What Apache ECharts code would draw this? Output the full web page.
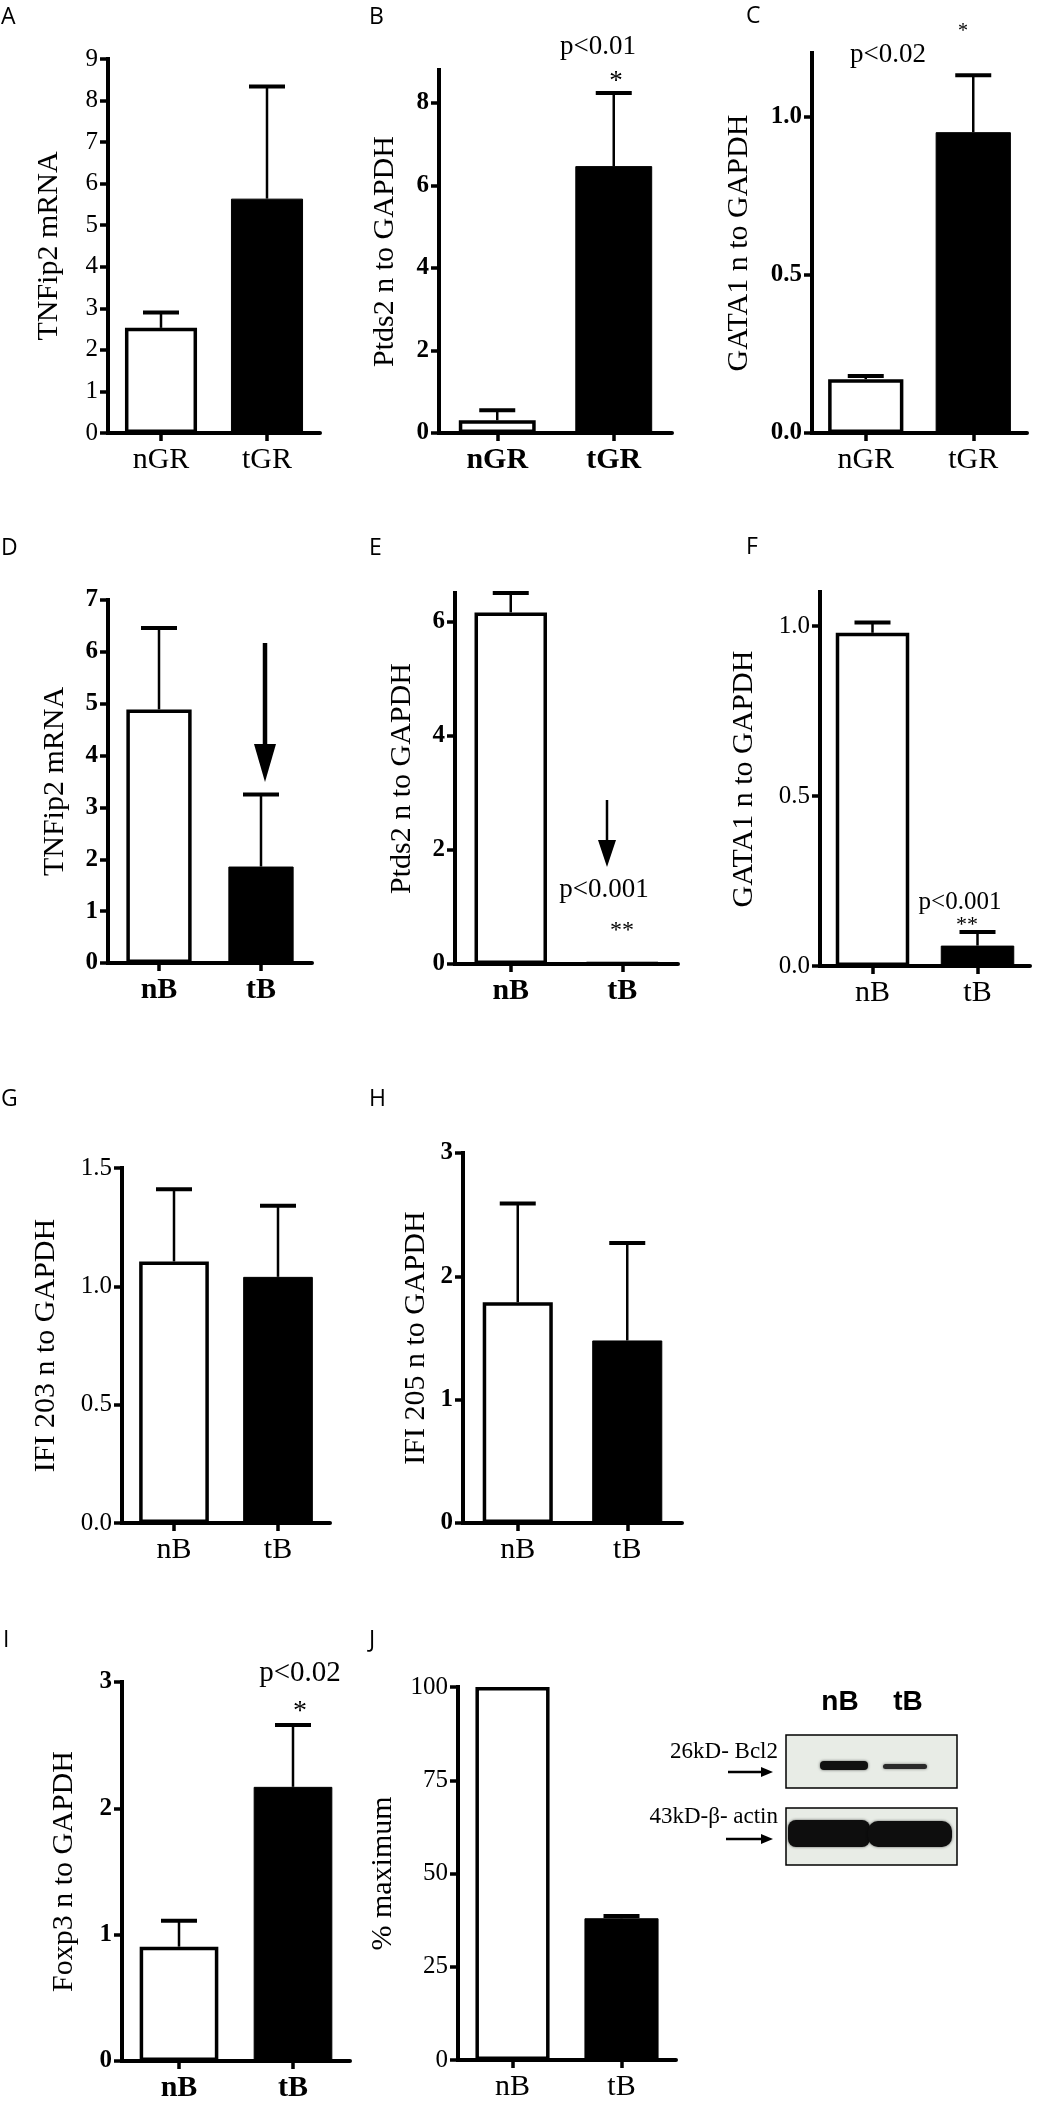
<!DOCTYPE html>
<html>
<head>
<meta charset="utf-8">
<title>qPCR panels A-J</title>
<script src="https://cdn.jsdelivr.net/npm/echarts@6/dist/echarts.min.js"></script>
<style>
  html, body { margin: 0; padding: 0; background: #fff; }
  #fig { width: 1064px; height: 2110px; }
</style>
</head>
<body>
<div id="fig"></div>
<script>
// groups
const catsGR = ['nGR', 'tGR'];
const catsB = ['nB', 'tB'];

// bar heights (mean) and upper error (SEM)
const tnfip2GR = [2.53, 5.64];
const tnfip2GRSem = [0.37, 2.70];
const ptds2GR = [0.31, 6.47];
const ptds2GRSem = [0.24, 1.77];
const gata1GR = [0.17, 0.95];
const gata1GRSem = [0.01, 0.18];
const tnfip2B = [4.89, 1.86];
const tnfip2BSem = [1.57, 1.39];
const ptds2B = [6.16, 0.04];
const ptds2BSem = [0.34, 0];
const gata1B = [0.98, 0.06];
const gata1BSem = [0.03, 0.04];
const ifi203B = [1.105, 1.04];
const ifi203BSem = [0.305, 0.30];
const ifi205B = [1.79, 1.48];
const ifi205BSem = [0.80, 0.79];
const foxp3B = [0.905, 2.17];
const foxp3BSem = [0.205, 0.49];
const bcl2Pct = [100, 38];
const bcl2PctSem = [0, 0.6];

// y tick labels
const ticksA = [0, 1, 2, 3, 4, 5, 6, 7, 8, 9];
const ticksB = [0, 2, 4, 6, 8];
const ticksC = [0, 0.5, 1.0];
const ticksD = [0, 1, 2, 3, 4, 5, 6, 7];
const ticksE = [0, 2, 4, 6];
const ticksF = [0, 0.5, 1.0];
const ticksG = [0, 0.5, 1.0, 1.5];
const ticksH = [0, 1, 2, 3];
const ticksI = [0, 1, 2, 3];
const ticksJ = [0, 25, 50, 75, 100];

const serif = "'Liberation Serif', 'Times New Roman', serif";
const sans = "'Open Sans', 'Noto Sans', sans-serif";

// box = [left, top, width, height] of each plot area
const panels = [
  {cats: catsGR, mean: tnfip2GR, sem: tnfip2GRSem, ticks: ticksA, max: 9,   name: 'TNFip2 mRNA',       box: [108, 59, 212, 374],  tickBold: false, catBold: false, gap: 44, digits: 0, barW: '68%'},
  {cats: catsGR, mean: ptds2GR,  sem: ptds2GRSem,  ticks: ticksB, max: 8.8, name: 'Ptds2 n to GAPDH',  box: [439, 70, 233, 363],  tickBold: true,  catBold: true,  gap: 39, digits: 0, barW: '66%'},
  {cats: catsGR, mean: gata1GR,  sem: gata1GRSem,  ticks: ticksC, max: 1.2, name: 'GATA1 n to GAPDH',  box: [812, 53, 215, 380],  tickBold: true,  catBold: false, gap: 58, digits: 1, barW: '70%'},
  {cats: catsB,  mean: tnfip2B,  sem: tnfip2BSem,  ticks: ticksD, max: 7,   name: 'TNFip2 mRNA',       box: [108, 600, 204, 363], tickBold: true,  catBold: true,  gap: 38, digits: 0, barW: '64%'},
  {cats: catsB,  mean: ptds2B,   sem: ptds2BSem,   ticks: ticksE, max: 6.5, name: 'Ptds2 n to GAPDH',  box: [455, 593, 223, 371], tickBold: true,  catBold: true,  gap: 38, digits: 0, barW: '65%'},
  {cats: catsB,  mean: gata1B,   sem: gata1BSem,   ticks: ticksF, max: 1.1, name: 'GATA1 n to GAPDH',  box: [820, 592, 210, 374], tickBold: false, catBold: false, gap: 61, digits: 1, barW: '70%'},
  {cats: catsB,  mean: ifi203B,  sem: ifi203BSem,  ticks: ticksG, max: 1.5, name: 'IFI 203 n to GAPDH', box: [122, 1168, 208, 355], tickBold: false, catBold: false, gap: 61, digits: 1, barW: '67%'},
  {cats: catsB,  mean: ifi205B,  sem: ifi205BSem,  ticks: ticksH, max: 3,   name: 'IFI 205 n to GAPDH', box: [463, 1153, 219, 370], tickBold: true,  catBold: false, gap: 32, digits: 0, barW: '64%'},
  {cats: catsB,  mean: foxp3B,   sem: foxp3BSem,   ticks: ticksI, max: 3,   name: 'Foxp3 n to GAPDH',  box: [122, 1682, 228, 379], tickBold: true,  catBold: true,  gap: 43, digits: 0, barW: '69%'},
  {cats: catsB,  mean: bcl2Pct,  sem: bcl2PctSem,  ticks: ticksJ, max: 100, name: '% maximum',         box: [458, 1687, 218, 373], tickBold: false, catBold: false, gap: 60, digits: 0, barW: '68%'}
];

const grid = [], xAxis = [], yAxis = [], series = [];

panels.forEach((p, i) => {
  grid.push({left: p.box[0], top: p.box[1], width: p.box[2], height: p.box[3], outerBoundsMode: 'none'});
  xAxis.push({
    type: 'category', gridIndex: i, data: p.cats,
    axisLine: {show: true, lineStyle: {color: '#000', width: 4}},
    axisTick: {show: true, alignWithLabel: true, length: 8, lineStyle: {color: '#000', width: 3.5}},
    axisLabel: {color: '#000', fontFamily: serif, fontSize: 30, fontWeight: p.catBold ? 'bold' : 'normal', margin: 12}
  });
  yAxis.push({
    type: 'value', gridIndex: i, min: 0, max: p.max,
    name: p.name, nameLocation: 'middle', nameGap: p.gap,
    nameTextStyle: {color: '#000', fontFamily: serif, fontSize: 30},
    splitLine: {show: false},
    axisLine: {show: true, lineStyle: {color: '#000', width: 4, cap: 'square'}},
    axisTick: {show: true, customValues: p.ticks, length: 8, lineStyle: {color: '#000', width: 3.5}},
    axisLabel: {
      customValues: p.ticks, color: '#000', fontFamily: serif, fontSize: 25,
      fontWeight: p.tickBold ? 'bold' : 'normal', margin: 10,
      formatter: v => v.toFixed(p.digits)
    }
  });
  series.push({
    type: 'bar', xAxisIndex: i, yAxisIndex: i, barWidth: p.barW,
    data: p.mean.map((v, k) => ({
      value: v,
      itemStyle: k === 0
        ? {color: '#fff', borderColor: '#000', borderWidth: 3.5}
        : {color: '#000', borderColor: '#000', borderWidth: 1}
    })),
    silent: true
  });
  series.push({
    type: 'custom', xAxisIndex: i, yAxisIndex: i, z: 5, silent: true,
    data: p.mean.map((v, k) => [k, v, v + p.sem[k]]),
    encode: {x: 0, y: [1, 2]},
    renderItem: (params, api) => {
      if (api.value(2) <= api.value(1)) return null;
      const base = api.coord([api.value(0), api.value(1)]);
      const top = api.coord([api.value(0), api.value(2)]);
      return {
        type: 'group',
        children: [
          {type: 'line', shape: {x1: base[0], y1: base[1], x2: top[0], y2: top[1]}, style: {stroke: '#000', lineWidth: 2.5}},
          {type: 'line', shape: {x1: top[0] - 18, y1: top[1], x2: top[0] + 18, y2: top[1]}, style: {stroke: '#000', lineWidth: 4}}
        ]
      };
    }
  });
});

function txt(x, y, text, size, opts) {
  opts = opts || {};
  return {
    type: 'text', x: x, y: y, z: 10, silent: true,
    style: {
      text: text, fill: '#000', fontSize: size,
      fontFamily: opts.family || serif, fontWeight: opts.weight || 'normal',
      align: opts.align || 'center', verticalAlign: 'middle'
    }
  };
}

function arrowDown(x, y1, y2, shaftW, headW, headH) {
  return [
    {type: 'line', z: 10, shape: {x1: x, y1: y1, x2: x, y2: y2 - headH + 2}, style: {stroke: '#000', lineWidth: shaftW}},
    {type: 'polygon', z: 10, shape: {points: [[x - headW / 2, y2 - headH], [x + headW / 2, y2 - headH], [x, y2]]}, style: {fill: '#000'}}
  ];
}

function arrowRight(x1, x2, y) {
  return [
    {type: 'line', z: 10, shape: {x1: x1, y1: y, x2: x2 - 10, y2: y}, style: {stroke: '#000', lineWidth: 2.5}},
    {type: 'polygon', z: 10, shape: {points: [[x2 - 12, y - 5], [x2 - 12, y + 5], [x2, y]]}, style: {fill: '#000'}}
  ];
}

const letters = [['A', 1, 17], ['B', 369, 17], ['C', 746, 16], ['D', 1, 548], ['E', 369, 548], ['F', 746, 547],
                 ['G', 1, 1099], ['H', 369, 1099], ['I', 3, 1640], ['J', 369, 1640]];

const graphic = [];
letters.forEach(l => graphic.push(txt(l[1], l[2], l[0], 23, {family: sans, align: 'left'})));

// significance notes
graphic.push(txt(598, 47, 'p<0.01', 27));
graphic.push(txt(616, 82, '*', 27));
graphic.push(txt(888, 55, 'p<0.02', 27));
graphic.push(txt(963, 32, '*', 20));
graphic.push(txt(604, 890, 'p<0.001', 27));
graphic.push(txt(622, 931, '**', 24));
graphic.push(txt(960, 902, 'p<0.001', 25));
graphic.push(txt(967, 925, '**', 22));
graphic.push(txt(300, 1673, 'p<0.02', 29));
graphic.push(txt(300, 1712, '*', 28));

// arrows in D and E
graphic.push(...arrowDown(265, 643, 782, 4.5, 22, 38));
graphic.push(...arrowDown(607, 800, 867, 2.5, 18, 27));

// western blot inset in J
graphic.push(txt(840, 1702, 'nB', 28, {family: "'Liberation Sans', Arial, sans-serif", weight: 'bold'}));
graphic.push(txt(908, 1702, 'tB', 28, {family: "'Liberation Sans', Arial, sans-serif", weight: 'bold'}));
graphic.push({type: 'rect', z: 8, shape: {x: 786, y: 1735, width: 171, height: 53}, style: {fill: '#e8ece6', stroke: '#000', lineWidth: 1.5}});
graphic.push({type: 'rect', z: 8, shape: {x: 786, y: 1808, width: 171, height: 57}, style: {fill: '#e8ece6', stroke: '#000', lineWidth: 1.5}});
graphic.push({type: 'rect', z: 9, shape: {x: 820, y: 1761, width: 48, height: 9, r: 4}, style: {fill: '#111', shadowBlur: 3, shadowColor: 'rgba(0,0,0,0.6)'}});
graphic.push({type: 'rect', z: 9, shape: {x: 883, y: 1764, width: 44, height: 5, r: 2.5}, style: {fill: '#2a2a2a', shadowBlur: 3, shadowColor: 'rgba(0,0,0,0.5)'}});
graphic.push({type: 'rect', z: 9, shape: {x: 788, y: 1820, width: 82, height: 27, r: 8}, style: {fill: '#0e0e0e', shadowBlur: 3, shadowColor: 'rgba(0,0,0,0.6)'}});
graphic.push({type: 'rect', z: 9, shape: {x: 868, y: 1821, width: 84, height: 26, r: 10}, style: {fill: '#0e0e0e', shadowBlur: 3, shadowColor: 'rgba(0,0,0,0.6)'}});
graphic.push(txt(778, 1752, '26kD- Bcl2', 23, {align: 'right'}));
graphic.push(txt(778, 1817, '43kD-\u03b2- actin', 23, {align: 'right'}));
graphic.push(...arrowRight(728, 773, 1772));
graphic.push(...arrowRight(726, 773, 1839));

const chart = echarts.init(document.getElementById('fig'));
chart.setOption({
  backgroundColor: '#fff',
  animation: false,
  grid: grid,
  xAxis: xAxis,
  yAxis: yAxis,
  series: series,
  graphic: graphic
});
</script>
</body>
</html>
